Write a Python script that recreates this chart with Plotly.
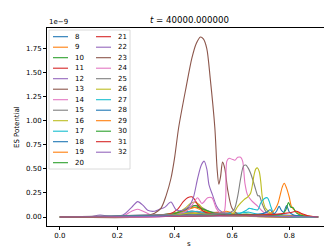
import plotly.graph_objects as go

# ---------------- data (ES Potential in units of 1e-9) ----------------
names = [str(i) for i in range(8, 33)]

s_8 = [0, 0.3, 0.38, 0.42, 0.46, 0.5, 0.55, 0.62, 0.7, 0.9]
v_8 = [0, 0.01, 0.03, 0.05, 0.06, 0.04, 0.03, 0.02, 0.01, 0]
s_9 = [0, 0.3, 0.4, 0.44, 0.48, 0.52, 0.6, 0.9]
v_9 = [0, 0.01, 0.03, 0.05, 0.04, 0.02, 0.01, 0]
s_10 = [0, 0.3, 0.4, 0.45, 0.48, 0.52, 0.58, 0.65, 0.9]
v_10 = [0, 0.01, 0.04, 0.09, 0.1, 0.05, 0.03, 0.01, 0]
s_11 = [0, 0.35, 0.45, 0.5, 0.55, 0.6, 0.65, 0.9]
v_11 = [0, 0.01, 0.03, 0.04, 0.05, 0.03, 0.01, 0]
s_12 = [0, 0.2, 0.3, 0.4, 0.45, 0.5, 0.6, 0.9]
v_12 = [0, 0.01, 0.02, 0.03, 0.04, 0.02, 0.01, 0]
s_13 = [0, 0.35, 0.42, 0.46, 0.5, 0.55, 0.62, 0.9]
v_13 = [0, 0.01, 0.04, 0.06, 0.05, 0.03, 0.01, 0]
s_14 = [0, 0.15, 0.22, 0.25, 0.27, 0.29, 0.32, 0.4, 0.45, 0.48, 0.52, 0.6, 0.9]
v_14 = [0, 0.0, 0.01, 0.06, 0.08, 0.06, 0.02, 0.02, 0.05, 0.06, 0.02, 0.01, 0]
s_15 = [0, 0.35, 0.42, 0.46, 0.48, 0.52, 0.6, 0.9]
v_15 = [0, 0.01, 0.06, 0.11, 0.12, 0.06, 0.02, 0]
s_16 = [0, 0.3, 0.38, 0.42, 0.44, 0.455, 0.47, 0.485, 0.5, 0.53, 0.6, 0.9]
v_16 = [0, 0.01, 0.03, 0.06, 0.1, 0.14, 0.155, 0.13, 0.08, 0.03, 0.01, 0]
s_17 = [0, 0.35, 0.42, 0.46, 0.5, 0.55, 0.62, 0.66, 0.7, 0.9]
v_17 = [0, 0.01, 0.04, 0.06, 0.05, 0.03, 0.04, 0.05, 0.02, 0]
s_18 = [0, 0.4, 0.45, 0.5, 0.55, 0.6, 0.65, 0.7, 0.9]
v_18 = [0, 0.02, 0.04, 0.03, 0.03, 0.02, 0.02, 0.03, 0]
s_19 = [0, 0.38, 0.44, 0.47, 0.5, 0.55, 0.58, 0.62, 0.7, 0.9]
v_19 = [0, 0.02, 0.07, 0.1, 0.06, 0.04, 0.06, 0.02, 0.01, 0]
s_20 = [0, 0.38, 0.44, 0.47, 0.5, 0.55, 0.6, 0.65, 0.7, 0.9]
v_20 = [0, 0.02, 0.08, 0.12, 0.08, 0.03, 0.02, 0.03, 0.02, 0]
s_21 = [0, 0.3, 0.38, 0.41, 0.43, 0.445, 0.46, 0.47, 0.48, 0.5, 0.53, 0.6, 0.7, 0.9]
v_21 = [0, 0.01, 0.03, 0.08, 0.16, 0.2, 0.21, 0.18, 0.13, 0.06, 0.03, 0.02, 0.02, 0]
s_22 = [0, 0.10, 0.14, 0.18, 0.22, 0.25, 0.271, 0.29, 0.306, 0.33, 0.347, 0.365,
        0.387, 0.405, 0.43, 0.45, 0.465, 0.48, 0.493, 0.503, 0.512, 0.52, 0.532,
        0.545, 0.555, 0.58, 0.62, 0.7, 0.9]
v_22 = [0, 0.0, 0.02, 0.005, 0.02, 0.1, 0.16, 0.12, 0.07, 0.06, 0.08, 0.10,
        0.155, 0.075, 0.07, 0.11, 0.2, 0.40, 0.54, 0.58, 0.50, 0.33, 0.23,
        0.12, 0.075, 0.03, 0.02, 0.01, 0]
s_23 = [0, 0.28, 0.31, 0.33, 0.352, 0.37, 0.387, 0.40, 0.414, 0.44, 0.46, 0.475,
        0.49, 0.50, 0.512, 0.524, 0.54, 0.548, 0.554, 0.56, 0.567, 0.575, 0.585,
        0.60, 0.62, 0.68, 0.9]
v_23 = [0, 0.0, 0.02, 0.04, 0.09, 0.22, 0.40, 0.62, 0.93, 1.35, 1.65, 1.80,
        1.87, 1.85, 1.75, 1.44, 0.93, 0.5, 0.34, 0.42, 0.57, 0.50, 0.28,
        0.09, 0.03, 0.01, 0]
s_24 = [0, 0.35, 0.40, 0.44, 0.46, 0.48, 0.495, 0.515, 0.53, 0.545, 0.56, 0.572,
        0.578, 0.582, 0.59, 0.60, 0.61, 0.62, 0.63, 0.637, 0.645, 0.654, 0.668,
        0.69, 0.71, 0.75, 0.9]
v_24 = [0, 0.0, 0.02, 0.06, 0.12, 0.2, 0.14, 0.2, 0.2, 0.09, 0.04, 0.05,
        0.2, 0.58, 0.61, 0.60, 0.59, 0.62, 0.62, 0.58, 0.35, 0.23, 0.17,
        0.11, 0.05, 0.02, 0]
s_25 = [0, 0.45, 0.52, 0.57, 0.595, 0.608, 0.62, 0.63, 0.64, 0.648, 0.656, 0.664,
        0.671, 0.683, 0.69, 0.695, 0.706, 0.72, 0.75, 0.9]
v_25 = [0, 0.03, 0.03, 0.04, 0.05, 0.08, 0.22, 0.40, 0.53, 0.54, 0.51, 0.46,
        0.40, 0.28, 0.22, 0.22, 0.13, 0.05, 0.02, 0]
s_26 = [0, 0.4, 0.45, 0.5, 0.55, 0.59, 0.605, 0.62, 0.642, 0.655, 0.665, 0.677,
        0.683, 0.689, 0.695, 0.70, 0.706, 0.717, 0.74, 0.9]
v_26 = [0, 0.02, 0.04, 0.03, 0.02, 0.02, 0.04, 0.11, 0.18, 0.21, 0.25, 0.44,
        0.50, 0.51, 0.47, 0.37, 0.20, 0.09, 0.03, 0]
s_27 = [0, 0.4, 0.6, 0.63, 0.65, 0.66, 0.675, 0.69, 0.70, 0.712, 0.723, 0.73,
        0.735, 0.745, 0.77, 0.9]
v_27 = [0, 0.01, 0.02, 0.04, 0.07, 0.09, 0.08, 0.075, 0.145, 0.19, 0.2, 0.16,
        0.11, 0.04, 0.01, 0]
s_28 = [0, 0.5, 0.65, 0.7, 0.72, 0.733, 0.745, 0.755, 0.764, 0.772, 0.78, 0.79,
        0.80, 0.815, 0.85, 0.9]
v_28 = [0, 0.02, 0.02, 0.03, 0.05, 0.075, 0.03, 0.06, 0.11, 0.07, 0.05, 0.12,
        0.05, 0.02, 0.01, 0]
s_29 = [0, 0.5, 0.6, 0.7, 0.73, 0.745, 0.752, 0.76, 0.768, 0.775, 0.782, 0.79,
        0.80, 0.807, 0.822, 0.85, 0.9]
v_29 = [0, 0.01, 0.015, 0.02, 0.03, 0.06, 0.09, 0.14, 0.23, 0.31, 0.35, 0.30,
        0.2, 0.11, 0.06, 0.02, 0]
s_30 = [0, 0.5, 0.6, 0.7, 0.76, 0.775, 0.787, 0.797, 0.805, 0.812, 0.825, 0.85, 0.9]
v_30 = [0, 0.01, 0.02, 0.02, 0.02, 0.03, 0.07, 0.15, 0.10, 0.10, 0.04, 0.01, 0]
s_31 = [0, 0.5, 0.6, 0.7, 0.76, 0.79, 0.81, 0.825, 0.84, 0.87, 0.9]
v_31 = [0, 0.01, 0.02, 0.02, 0.03, 0.04, 0.05, 0.06, 0.04, 0.01, 0]
s_32 = [0, 0.3, 0.4, 0.5, 0.6, 0.7, 0.8, 0.9]
v_32 = [0, 0.005, 0.01, 0.01, 0.01, 0.01, 0.005, 0]

x_ticks = [0.0, 0.2, 0.4, 0.6, 0.8]
y_ticks = [0.0, 0.25, 0.5, 0.75, 1.0, 1.25, 1.5, 1.75]
title_text = "<i>t</i> = 40000.000000"

series_s = [s_8, s_9, s_10, s_11, s_12, s_13, s_14, s_15, s_16, s_17, s_18, s_19, s_20,
            s_21, s_22, s_23, s_24, s_25, s_26, s_27, s_28, s_29, s_30, s_31, s_32]
series_v = [v_8, v_9, v_10, v_11, v_12, v_13, v_14, v_15, v_16, v_17, v_18, v_19, v_20,
            v_21, v_22, v_23, v_24, v_25, v_26, v_27, v_28, v_29, v_30, v_31, v_32]

tab10 = ["#1f77b4", "#ff7f0e", "#2ca02c", "#d62728", "#9467bd",
         "#8c564b", "#e377c2", "#7f7f7f", "#bcbd22", "#17becf"]

# ---------------- layout geometry (pixels) ----------------
W, H = 332, 249
L, R, T, B = 39, 323, 20, 218
FONT = "DejaVu Sans"


def xp(px):
    return (px - L) / (R - L)


def yp(py):
    return (B - py) / (B - T)


fig = go.Figure()
for i, (nm, sx, sv) in enumerate(zip(names, series_s, series_v)):
    fig.add_trace(go.Scatter(
        x=sx, y=sv, mode="lines", name=nm, showlegend=False,
        line=dict(color=tab10[i % 10], width=1.1, shape="spline", smoothing=0.8),
        hoverinfo="skip"))

# manual legend (matplotlib style, 2 columns)
shapes = [dict(type="rect", xref="paper", yref="paper",
               x0=xp(41), x1=xp(122), y0=yp(161), y1=yp(22),
               line=dict(color="#d0d0d0", width=0.8), fillcolor="white",
               layer="above")]
annotations = []
ncol1 = 13
for i, nm in enumerate(names):
    col = 0 if i < ncol1 else 1
    row = i if i < ncol1 else i - ncol1
    ypix = 28.7 + row * 10.5
    lx0 = 45 if col == 0 else 88
    shapes.append(dict(type="line", xref="paper", yref="paper",
                       x0=xp(lx0), x1=xp(lx0 + 15), y0=yp(ypix), y1=yp(ypix),
                       line=dict(color=tab10[i % 10], width=1.1), layer="above"))
    annotations.append(dict(text=nm, xref="paper", yref="paper",
                            x=xp(lx0 + 20), y=yp(ypix), xanchor="left",
                            yanchor="middle", showarrow=False,
                            font=dict(family=FONT, size=7, color="black")))

annotations += [
    dict(text=title_text, xref="paper", yref="paper", x=0.5, y=yp(12),
         xanchor="center", yanchor="middle", showarrow=False,
         font=dict(family=FONT, size=8.6, color="black")),
    dict(text="1e\u22129", xref="paper", yref="paper", x=0, y=yp(14),
         xanchor="left", yanchor="middle", showarrow=False,
         font=dict(family=FONT, size=7, color="black")),
    dict(text="ES Potential", xref="paper", yref="paper", x=xp(9), y=0.5,
         xanchor="center", yanchor="middle", textangle=-90, showarrow=False,
         font=dict(family=FONT, size=7, color="black")),
    dict(text="s", xref="paper", yref="paper", x=0.5, y=yp(236),
         xanchor="center", yanchor="middle", showarrow=False,
         font=dict(family=FONT, size=7, color="black")),
]

fig.update_layout(
    width=W, height=H,
    margin=dict(l=L, r=W - R, t=T, b=H - B, pad=0),
    paper_bgcolor="white", plot_bgcolor="white",
    font=dict(family=FONT, size=7, color="black"),
    shapes=shapes, annotations=annotations, showlegend=False,
)
fig.update_xaxes(range=[-0.045, 0.945], tickvals=x_ticks, tickformat=".1f",
                 showgrid=False, zeroline=False, showline=True, mirror=True,
                 linecolor="black", linewidth=0.8, ticks="outside", ticklen=3,
                 tickwidth=0.8, tickcolor="black", tickfont=dict(size=7))
fig.update_yaxes(range=[-0.0935, 1.9635], tickvals=y_ticks, tickformat=".2f",
                 showgrid=False, zeroline=False, showline=True, mirror=True,
                 linecolor="black", linewidth=0.8, ticks="outside", ticklen=3,
                 tickwidth=0.8, tickcolor="black", tickfont=dict(size=7))

fig.write_html("out.html")
